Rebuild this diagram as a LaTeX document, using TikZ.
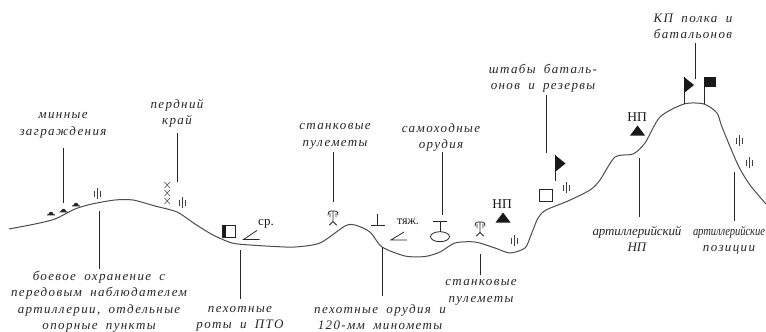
\documentclass[tikz,border=0pt]{standalone}
\usepackage{fontspec}
\setmainfont{Liberation Serif}
\newfontfamily\lab[LetterSpace=10.5,WordSpace=1.8]{Liberation Serif}
\newfontfamily\labtight[LetterSpace=-1]{Liberation Serif}
\tikzset{
  lbl/.style={font=\lab\itshape\fontsize{13}{16.3}\selectfont,align=center,inner sep=0pt,text=black!85,yshift=-2.4pt,
    execute at begin node=\strut,execute at end node=\strut},
  lbltight/.style={lbl,font=\labtight\itshape\fontsize{13}{16.3}\selectfont},
  upr/.style={font=\fontsize{13.5}{15}\selectfont,inner sep=0pt,text=black!90},
  conn/.style={line width=0.8pt,black!85},
  terrain/.style={line width=1pt,black!70},
  sym/.style={line width=0.8pt,black!85},
  pics/rifle/.style={code={
    \draw[line width=0.6pt,black!75] (0,-6)--(0,5) (-3,-3.5)--(-3,3) (3,-3.5)--(3,3);}},
  pics/mg/.style={code={
    \draw[line width=0.8pt,black!85,line cap=round] (-5,-3) .. controls (-5,-6) and (-4,-7) .. (-2,-7) -- (2,-7) .. controls (4,-7) and (5,-6) .. (5,-3) (-3,-4.5)--(-3,-1) (3,-4.5)--(3,-1) (0,-7)--(0,3.5) (0,3.5)--(-3.5,7) (0,3.5)--(3.5,7);}},
  pics/mine/.style={code={
    \fill[black!85] (-4,1.5) -- (-2.5,1.2) .. controls (-2,-2) and (2,-2) .. (2.5,1.2) -- (4,1.5) -- (4,2.3) -- (-4,2.3) -- cycle;}}
}
\begin{document}
\begin{tikzpicture}[x=1pt,y=-1pt]
\useasboundingbox (0,0) rectangle (766,332);
% terrain
\draw[terrain] plot[smooth,tension=0.45] coordinates {(9,229) (35,224) (55,219) (75,209) (92,204) (115,200) (133,200) (155,206) (177,212) (195,224) (213,235) (232,243) (250,245) (275,246.5) (295,247) (320,243) (345,226) (355,225) (370,232) (382,247) (405,256) (425,256.5) (440,252) (455,243) (475,242) (495,248) (510,253) (525,248) (531,235) (538,218) (546,210) (568,201) (590,190) (600,180) (615,157) (633,154) (645,143) (660,117) (684,104) (704,104) (717,113) (722,127) (738,165) (750,185) (766,204)};
% labels
\node[lbl] (lmines) at (63,124) {минные\\заграждения};
\node[lbl] (ledge) at (177,112) {пердний\\край};
\node[lbl] (lguard) at (99,300.5) {боевое охранение с\\передовым наблюдателем\\артиллерии, отдельные\\опорные пункты};
\node[lbl] (lcomp) at (240,317.5) {пехотные\\роты и ПТО};
\node[lbl] (lmg) at (335,135) {станковые\\пулеметы};
\node[lbl] (lsp) at (441,136) {самоходные\\орудия};
\node[lbl] (lmgb) at (481,291) {станковые\\пулеметы};
\node[lbl] (linf) at (380,317) {пехотные орудия и\\120-мм минометы};
\node[lbl] (lhq) at (543,77) {штабы баталь-\\онов и резервы};
\node[lbl] (lkp) at (693,26) {КП полка и\\батальонов};
\node[lbltight] (lop) at (637,230) {артиллерийский};
\node[lbltight] (lopb) at (637,246) {НП};
\node[lbltight] (lart) at (729,230) {\resizebox{72pt}{\height}{артиллерийские}};
\node[lbl] (lartb) at (729,246) {позиции};
\node[upr] (np1) at (502,204) {НП};
\node[upr] (np2) at (637,117) {НП};
\node[upr,font=\fontsize{13}{14}\selectfont] (sr) at (266,224) {ср.};
\node[upr,font=\fontsize{12}{13}\selectfont] (tyazh) at (408,222) {тяж.};
% connector ends
\foreach \n/\x/\a/\b in {mines/63/148/203,guard/99/211/269,edge/177/133/182,comp/240/250/299,mg/333.5/152/202,sp/442/152/215,mgb/480/254/275,inf/382.5/247/296,hq/546/95/153,kp/695/43/79,op/639.5/158/217,art/734/172/221}{
  \coordinate (\n A) at (\x,\a);
  \coordinate (\n B) at (\x,\b);
  \draw[conn] (\n A) -- (\n B);
}
% symbols
\path (51,213) pic {mine} (63.5,210) pic {mine} (76,204) pic {mine};
\foreach \x/\y in {97/194,182/203,514/241,566/188,739/141,749/163}{\path (\x,\y) pic {rifle};}
\foreach \y in {185,193,201}{\draw[black!60,line width=0.7pt] (164.5,\y-3)--(170,\y+3) (170,\y-3)--(164.5,\y+3);}
\path (333,218) pic {mg} (480,229) pic {mg};
\draw[sym,line width=1pt] (222.5,225) rectangle (235.5,237);
\fill[black!90] (222.5,225) rectangle (226,237);
\draw[sym,line width=1pt] (539.5,189) rectangle (552,201);
\draw[sym] (257,230.5)--(243.5,239.5)--(259.5,239.5);
\draw[sym] (404,232)--(391,240)--(407,240);
\draw[sym] (370.5,225.7)--(385,225.7) (377.5,214)--(377.5,225.7);
\draw[sym] (433,221.7)--(447,221.7) (440,221.7)--(440,231.5);
\draw[sym] (440,236.7) ellipse[x radius=9.5,y radius=5];
\fill[black!90] (495.5,222.5)--(510.5,222.5)--(503,212.5)--cycle;
\fill[black!90] (630,135.5)--(645,135.5)--(637.5,125.5)--cycle;
\draw[sym] (555,155)--(555,181);
\fill[black!90] (555,155)--(565.5,163.5)--(555,172)--cycle;
\draw[sym] (684,77)--(684,104) (704,77)--(704,104);
\fill[black!90] (684,77)--(694,85)--(684,93)--cycle;
\fill[black!90] (704,77) rectangle (716,87);
\end{tikzpicture}
\end{document}
